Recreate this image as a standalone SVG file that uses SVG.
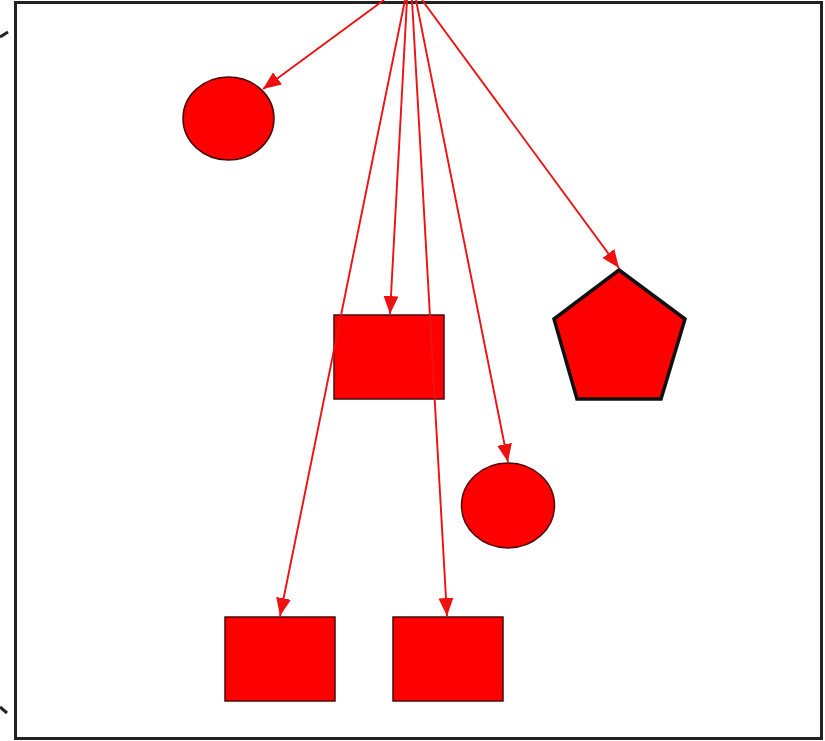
<svg xmlns="http://www.w3.org/2000/svg" width="825" height="741" viewBox="0 0 825 741">
  <style>
    .shape { fill: #ff0000; stroke: #4a0a0a; stroke-width: 1.5; }
    .pent { fill: #ff0000; stroke: #111; stroke-width: 3.5; stroke-linejoin: miter; }
    .edge { fill: none; stroke: #ee1111; stroke-width: 1.9; marker-end: url(#arrow); }
    .frame { fill: #ffffff; stroke: #222; stroke-width: 3; }
    .tick { fill: none; stroke: #222; stroke-width: 3; }
  </style>
  <defs>
    <marker id="arrow" markerUnits="userSpaceOnUse" markerWidth="19" markerHeight="15" refX="18" refY="7.5" orient="auto">
      <path d="M0,0 L18,7.5 L0,15 Z" fill="#ee1111"/>
    </marker>
  </defs>
  <rect width="825" height="741" fill="#ffffff"/>
  <g id="frame">
    <rect class="frame" x="15.5" y="2.5" width="806" height="736"/>
    <path class="tick" d="M0,37 L8,32"/>
    <path class="tick" d="M0,707 L7,713"/>
  </g>
  <g id="circle1"><ellipse class="shape" cx="228.5" cy="118.5" rx="45.5" ry="41.5"/></g>
  <g id="pentagon"><polygon class="pent" points="619,270 685,319 661,399 577,399 554,319"/></g>
  <g id="rect-middle"><rect class="shape" x="334" y="315" width="110" height="84"/></g>
  <g id="circle2"><ellipse class="shape" cx="508" cy="505.5" rx="46.5" ry="42.5"/></g>
  <g id="rect-bottom-left"><rect class="shape" x="225" y="617" width="110" height="84"/></g>
  <g id="rect-bottom-right"><rect class="shape" x="393" y="617" width="110" height="84"/></g>
  <g id="connectors">
    <line class="edge" x1="384" y1="0" x2="263" y2="89"/>
    <line class="edge" x1="407" y1="0" x2="390" y2="314"/>
    <line class="edge" x1="405" y1="0" x2="280" y2="616"/>
    <line class="edge" x1="412" y1="0" x2="447" y2="616"/>
    <line class="edge" x1="416" y1="0" x2="508" y2="462"/>
    <line class="edge" x1="422" y1="0" x2="619" y2="268"/>
  </g>
</svg>
